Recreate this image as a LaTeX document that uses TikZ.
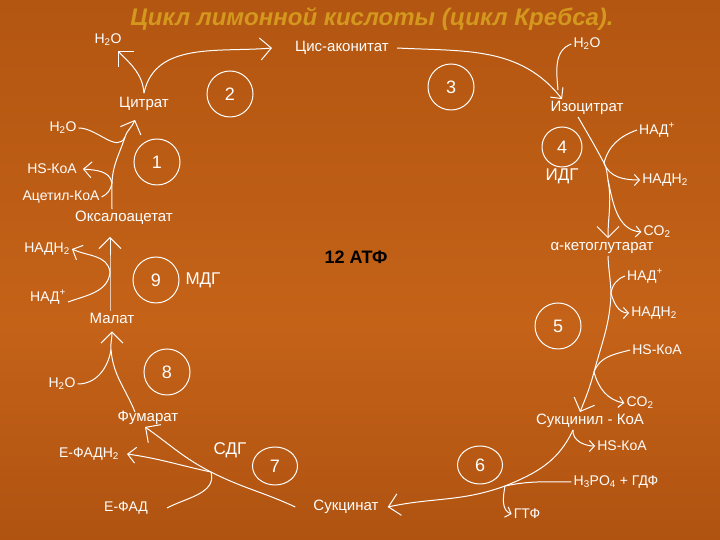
\documentclass[tikz,border=0pt]{standalone}
\usepackage{fontspec}
\setmainfont{Liberation Sans}
\usetikzlibrary{shapes.geometric, arrows.meta, positioning}

\definecolor{bgtop}{RGB}{146,66,10}
\definecolor{bgupper}{RGB}{176,84,16}
\definecolor{bgmid}{RGB}{196,98,24}
\definecolor{bglower}{RGB}{160,72,12}
\definecolor{bgbottom}{RGB}{90,36,4}
\definecolor{titlegold}{RGB}{212,152,30}

\pgfdeclareverticalshading{krebsbg}{100bp}{color(0bp)=(bgbottom); color(10bp)=(bglower); color(45bp)=(bgmid); color(80bp)=(bgupper); color(100bp)=(bgtop)}

\begin{document}
\begin{tikzpicture}[x=1pt, y=1pt,
  species/.style={text=white, inner sep=2pt, font=\fontsize{15}{17}\selectfont},
  reagent/.style={text=white, inner sep=2pt, font=\fontsize{14}{16}\selectfont},
  stepnum/.style={circle, draw=white, line width=1pt, minimum size=46pt, inner sep=0pt, text=white, font=\fontsize{18}{20}\selectfont},
  stepoval/.style={ellipse, draw=white, line width=1pt, minimum width=45pt, minimum height=38pt, inner sep=0pt, text=white, font=\fontsize{18}{20}\selectfont},
  enzyme/.style={text=white, font=\fontsize{17}{19}\selectfont},
  arrow/.style={draw=white, line width=1pt, -{Straight Barb[length=11pt,width=22pt]}},
  sidearrow/.style={draw=white, line width=1pt, -{Straight Barb[length=8pt,width=16pt]}},
  hookarrow/.style={draw=white, line width=1pt, -{Straight Barb[length=5pt,width=11pt]}},
  joinline/.style={draw=white, line width=1pt}]

  % Background
  \shade [shading=krebsbg] (0,0) rectangle (720,540);
  \useasboundingbox (0,0) rectangle (720,540);

  % Nodes
  \node (title) [text=titlegold, font=\fontsize{24}{27}\selectfont\bfseries\itshape] at (372,521) {Цикл лимонной кислоты (цикл Кребса).};

  \node (oxalo) [species] at (124,322) {Оксалоацетат};
  \node (citrat) [species] at (144,436) {Цитрат};
  \node (cisacon) [species] at (342,492) {Цис-аконитат};
  \node (isocit) [species] at (587,432) {Изоцитрат};
  \node (akg) [species] at (602,292) {α-кетоглутарат};
  \node (succoa) [species] at (590,119) {Сукцинил - КоА};
  \node (succinat) [species] at (346,33) {Сукцинат};
  \node (fumarat) [species] at (148,122) {Фумарат};
  \node (malat) [species] at (112,222) {Малат};

  \node (h2oA) [reagent] at (108,500) {H\textsubscript{2}O};
  \node (h2oB) [reagent] at (587,496) {H\textsubscript{2}O};
  \node (h2oC) [reagent] at (63,412) {H\textsubscript{2}O};
  \node (hskoaA) [reagent] at (52,371) {HS-КоА};
  \node (acetyl) [reagent] at (61,343) {Ацетил-КоА};
  \node (nadA) [reagent] at (657,410) {НАД\textsuperscript{+}};
  \node (nadhA) [reagent] at (665,360) {НАДН\textsubscript{2}};
  \node (co2A) [reagent] at (657,308) {CO\textsubscript{2}};
  \node (nadB) [reagent] at (645,264) {НАД\textsuperscript{+}};
  \node (nadhB) [reagent] at (654,227) {НАДН\textsubscript{2}};
  \node (hskoaB) [reagent] at (657,190) {HS-КоА};
  \node (co2B) [reagent] at (640,137) {CO\textsubscript{2}};
  \node (hskoaC) [reagent] at (622,94) {HS-КоА};
  \node (h3po4) [reagent] at (616,58) {H\textsubscript{3}PO\textsubscript{4} + ГДФ};
  \node (gtf) [reagent] at (527,26) {ГТФ};
  \node (efad) [reagent] at (126,32) {Е-ФАД};
  \node (efadh) [reagent] at (89,86) {Е-ФАДН\textsubscript{2}};
  \node (h2oD) [reagent] at (62,156) {H\textsubscript{2}O};
  \node (nadC) [reagent] at (48,243) {НАД\textsuperscript{+}};
  \node (nadhC) [reagent] at (47,291) {НАДН\textsubscript{2}};

  \node (s1) [stepnum] at (157,378) {1};
  \node (s2) [stepnum] at (230,446) {2};
  \node (s3) [stepnum] at (451,453) {3};
  \node (s4) [stepnum, minimum size=40pt] at (562,393) {4};
  \node (s5) [stepnum] at (558,214) {5};
  \node (s6) [stepoval] at (480,75) {6};
  \node (s7) [stepoval] at (275,74) {7};
  \node (s8) [stepnum] at (167,168) {8};
  \node (s9) [stepnum] at (156,260) {9};

  \node (idg) [enzyme] at (562,364) {ИДГ};
  \node (mdg) [enzyme] at (203,260) {МДГ};
  \node (sdg) [enzyme] at (230,90) {СДГ};
  \node (atf) [font=\fontsize{18}{20}\selectfont\bfseries] at (356,283) {12 АТФ};

  % Junctions
  \coordinate (j1a) at (112,357);
  \coordinate (j1b) at (125,403);
  \coordinate (j2) at ([yshift=2pt]citrat.north);
  \coordinate (j3) at (558,450);
  \coordinate (j4a) at (604,377);
  \coordinate (j4b) at (608,360);
  \coordinate (j5a) at (611,247);
  \coordinate (j5b) at (594,168);
  \coordinate (j6a) at ([xshift=-17pt]succoa.south);
  \coordinate (j6b) at (505,54);
  \coordinate (j7) at (211,68);
  \coordinate (j8) at (111,190);
  \coordinate (j9) at (110,268);

  % Arrows
  \draw [arrow] ([xshift=-12pt]oxalo.north) to[out=90,in=-92] (j1a) to[out=88,in=-108] (j1b) to[out=72,in=-112] ([xshift=-9pt,yshift=-7pt]citrat.south);
  \draw [joinline] (acetyl.east) to[out=25,in=-100] (j1a);
  \draw [sidearrow] (j1a) to[out=100,in=-5] ([xshift=4pt]hskoaA.east);
  \draw [joinline] (h2oC.east) to[out=0,in=-115] (j1b);

  \draw [arrow] (j2) to[out=78,in=185] ([xshift=-21pt]cisacon.west);
  \draw [arrow] (j2) to[out=95,in=-45] ([xshift=10pt,yshift=-3pt]h2oA.south);

  \draw [sidearrow] ([xshift=6pt]cisacon.east) to[out=-3,in=128] ([xshift=-25pt]isocit.north);
  \draw [joinline] (h2oB.west) to[out=200,in=95] (j3);

  \draw [arrow] ([xshift=-9pt]isocit.south) to[out=-60,in=118] (j4a) to[out=-62,in=100] (j4b) to[out=-80,in=90] ([xshift=6pt,yshift=2pt]akg.north);
  \draw [joinline] (nadA.west) to[out=200,in=75] (j4a);
  \draw [hookarrow] (j4a) to[out=-70,in=180] (nadhA.west);
  \draw [hookarrow] (j4b) to[out=-78,in=175] (co2A.west);

  \draw [arrow] ([xshift=6pt]akg.south) to[out=-88,in=92] (j5a) to[out=-92,in=75] (j5b) to[out=-105,in=68] ([xshift=-10pt]succoa.north);
  \draw [joinline] (nadB.west) to[out=200,in=80] (j5a);
  \draw [hookarrow] (j5a) to[out=-75,in=180] (nadhB.west);
  \draw [joinline] (hskoaB.west) to[out=195,in=70] (j5b);
  \draw [hookarrow] (j5b) to[out=-75,in=170] (co2B.west);

  \draw [arrow] (j6a) to[out=-115,in=22] (j6b) to[out=200,in=12] ([xshift=7pt]succinat.east);
  \draw [hookarrow] (j6a) to[out=-95,in=180] (hskoaC.west);
  \draw [joinline] (h3po4.west) to[out=180,in=12] (j6b);
  \draw [hookarrow] (j6b) to[out=-100,in=160] (gtf.west);

  \draw [arrow] ([xshift=-16pt]succinat.west) to[out=155,in=-27] (j7) to[out=153,in=-35] ([xshift=-3pt]fumarat.south);
  \draw [joinline] ([xshift=17pt]efad.east) to[out=28,in=-75] (j7);
  \draw [sidearrow] (j7) to[out=168,in=-8] ([xshift=6pt]efadh.east);

  \draw [arrow] ([xshift=-13pt,yshift=-3pt]fumarat.north) to[out=112,in=-85] (j8) to[out=95,in=-90] ([yshift=-6pt]malat.south);
  \draw [joinline] (h2oD.east) to[out=0,in=-100] (j8);

  \draw [arrow] ([xshift=-2pt]malat.north) -- (j9) -- ([xshift=-14pt,yshift=-10pt]oxalo.south);
  \draw [joinline] ([yshift=-5pt]nadC.east) to[out=20,in=-95] (j9);
  \draw [sidearrow] (j9) to[out=98,in=-25] (nadhC.east);

\end{tikzpicture}
\end{document}
